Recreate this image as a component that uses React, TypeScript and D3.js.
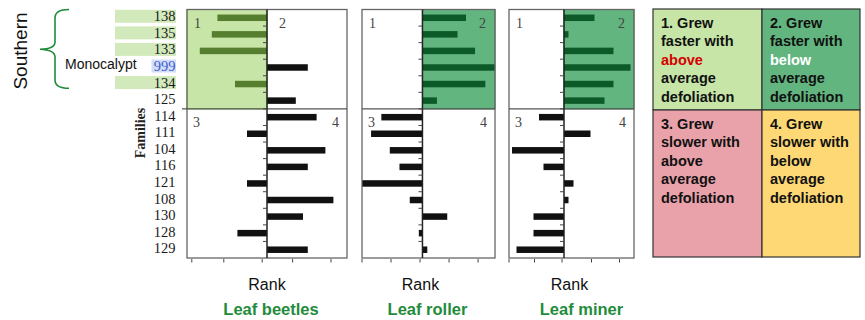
import React from 'react'
import * as d3 from 'd3'

// families, top to bottom
const families = ['138', '135', '133', '999', '134', '125', '114', '111', '104', '116', '121', '108', '130', '128', '129']
const southernFamilies = ['138', '135', '133', '134']
const monocalyptFamily = '999'
const splitFamily = '114' // first family of the lower half

// rank deviation per family, one list per insect
const beetleRank = [-6.2, -6.9, -8.4, 5.1, -4.0, 3.6, 6.2, -2.5, 7.3, 5.1, -2.5, 8.3, 4.5, -3.7, 5.1]
const rollerRank = [7.2, 5.8, 8.7, 12, 10.4, 2.4, -6.8, -8.5, -5.4, -3.8, -10, -2.1, 4.1, -0.6, 0.8]
const minerRank = [6.1, 0.9, 9.9, 13.3, 9.9, 8.1, -5, 5.3, -10.4, -4.1, 1.9, 0.9, -6.1, -6.1, -9.5]

const panelNames = ['Leaf beetles', 'Leaf roller', 'Leaf miner']
const panelSeries = [beetleRank, rollerRank, minerRank]
const rankDomains = [[-10, 10], [-10, 12], [-11, 14]]
const rankTicks = [[-9.4, -5.4, -0.6, 3.2, 8], [-10, -5.2, -0.4, 4.4, 9.2], [-11, -5.9, -0.4, 5.5, 11.1]]
const highlightQuadrant = [1, 2, 2]

const quadrantText = [
  ['1. Grew', 'faster with', 'above', 'average', 'defoliation'],
  ['2. Grew', 'faster with', 'below', 'average', 'defoliation'],
  ['3. Grew', 'slower with', 'above', 'average', 'defoliation'],
  ['4. Grew', 'slower with', 'below', 'average', 'defoliation'],
]

const W = 865
const H = 320
const panelX = [[187, 347], [362, 495], [509, 634]]
const top = 9.5
const bottom = 258

const sans = 'Liberation Sans, Arial, sans-serif'
const serif = 'Liberation Serif, Times New Roman, serif'
const q1Fill = '#c6e5a6'
const q2Fill = '#62b57f'
const q3Fill = '#e9a2aa'
const q4Fill = '#fdd874'
const green = '#1f8c3b'

export default function App() {
  const y = d3.scaleBand().domain(families).range([top, bottom])
  const step = y.step()
  const splitY = y(splitFamily) as number
  const barH = 6.5

  const panels = panelSeries.map((vals, p) => {
    const [x0, x1] = panelX[p]
    const x = d3.scaleLinear().domain(rankDomains[p]).range([x0, x1])
    const cx = x(0)
    const q = highlightQuadrant[p]
    const hx = q === 1 ? x0 : cx
    const hw = q === 1 ? cx - x0 : x1 - cx
    const hiBar = q === 1 ? '#557e2e' : '#0d5a29'
    return (
      <g key={p}>
        <rect x={hx} y={top} width={hw} height={splitY - top} fill={q === 1 ? q1Fill : q2Fill}
          stroke={q === 1 ? '#8cc152' : '#3f9a5e'} strokeWidth={1} />
        {vals.map((v, i) => {
          const f = families[i]
          const cy = (y(f) as number) + step / 2
          const inHi = i < families.indexOf(splitFamily) && ((q === 1 && v < 0) || (q === 2 && v > 0))
          return (
            <rect key={f} x={Math.min(x(v), cx)} y={cy - barH / 2} width={Math.abs(x(v) - cx)} height={barH}
              fill={inHi ? hiBar : '#111'} />
          )
        })}
        {/* frame */}
        <rect x={x0} y={top} width={x1 - x0} height={bottom - top} fill="none" stroke="#666" strokeWidth={1.3} />
        <line x1={p === 0 ? x0 - 5 : x0} x2={x1} y1={splitY} y2={splitY} stroke="#555" strokeWidth={1.3} />
        <line x1={cx} x2={cx} y1={top} y2={bottom} stroke="#222" strokeWidth={1.5} />
        {families.slice(1).map((f) => (
          <line key={f} x1={cx - 4} x2={cx} y1={y(f) as number} y2={y(f) as number} stroke="#444" strokeWidth={1} />
        ))}
        {rankTicks[p].map((t) => (
          <line key={t} x1={x(t)} x2={x(t)} y1={bottom + 1} y2={bottom + 4.5} stroke="#444" strokeWidth={1} />
        ))}
        <g fontFamily={serif} fontSize={14} fill="#444">
          <text x={x0 + 7} y={top + 18.5}>1</text>
          {p === 0
            ? <text x={cx + 12} y={top + 18.5}>2</text>
            : <text x={x1 - 9} y={top + 18.5} textAnchor="end">2</text>}
          <text x={x0 + 6} y={splitY + 18.5}>3</text>
          <text x={x1 - 8} y={splitY + 18.5} textAnchor="end">4</text>
        </g>
        <text x={(x0 + x1) / 2 + [0, -8, -2][p]} y={290} textAnchor="middle" fontFamily={sans} fontSize={16} fill="#111">
          Rank
        </text>
        <text x={(x0 + x1) / 2 + [4, -1, 10][p]} y={315} textAnchor="middle" fontFamily={sans} fontSize={16.5}
          fontWeight="bold" fill={green}>
          {panelNames[p]}
        </text>
      </g>
    )
  })

  // legend grid
  const lx0 = 653, lx1 = 860, lmx = 762
  const ly0 = 9, ly1 = 257, lmy = 110
  const cells = [
    { x: lx0, y: ly0, w: lmx - lx0, h: lmy - ly0, fill: q1Fill },
    { x: lmx, y: ly0, w: lx1 - lmx, h: lmy - ly0, fill: q2Fill },
    { x: lx0, y: lmy, w: lmx - lx0, h: ly1 - lmy, fill: q3Fill },
    { x: lmx, y: lmy, w: lx1 - lmx, h: ly1 - lmy, fill: q4Fill },
  ]

  return (
    <svg width={W} height={H} style={{ position: 'absolute', left: 0, top: 0, background: '#fff' }}>
      {/* Southern / Monocalypt labels */}
      <text transform="translate(27,51) rotate(-90)" textAnchor="middle" fontFamily={sans} fontSize={19} fill="#111">
        Southern
      </text>
      <path d="M69,9.5 Q55,9.5 55,18 L55,42 Q55,49 40,49.3 Q55,50 55,57 L55,80 Q55,88.3 69,88.3"
        fill="none" stroke={green} strokeWidth={1.6} />
      <text x={65} y={69} fontFamily={sans} fontSize={14} fill="#111">Monocalypt</text>

      {families.map((f) => {
        const cy = (y(f) as number) + step / 2 - 1.5
        const south = southernFamilies.includes(f)
        const mono = f === monocalyptFamily
        return (
          <g key={f}>
            {south && <rect x={115} y={cy - 6.5} width={61} height={13} fill="#d2eabb" />}
            {mono && <rect x={151.5} y={cy - 6.5} width={24.5} height={13} fill="#d3ddf5" />}
            <text x={175.5} y={cy + 5} textAnchor="end" fontFamily={serif} fontSize={14.5}
              fill={mono ? '#3d5fcf' : '#1a1a1a'}>
              {f}
            </text>
          </g>
        )
      })}
      <text transform="translate(145,133) rotate(-90)" textAnchor="middle" fontFamily={serif} fontSize={14}
        fontWeight="bold" fill="#222">
        Families
      </text>

      {panels}

      {/* quadrant legend */}
      {cells.map((c, i) => (
        <g key={i}>
          <rect x={c.x} y={c.y} width={c.w} height={c.h} fill={c.fill} stroke="#333" strokeWidth={1.2} />
          <text fontFamily={sans} fontSize={14.5} fontWeight="bold" fill="#111">
            {quadrantText[i].map((t, j) => (
              <tspan key={j} x={c.x + 8} y={c.y + 19 + j * 18.4}
                fill={j === 2 && i === 0 ? '#d40000' : j === 2 && i === 1 ? '#fff' : '#111'}>
                {t}
              </tspan>
            ))}
          </text>
        </g>
      ))}
    </svg>
  )
}
